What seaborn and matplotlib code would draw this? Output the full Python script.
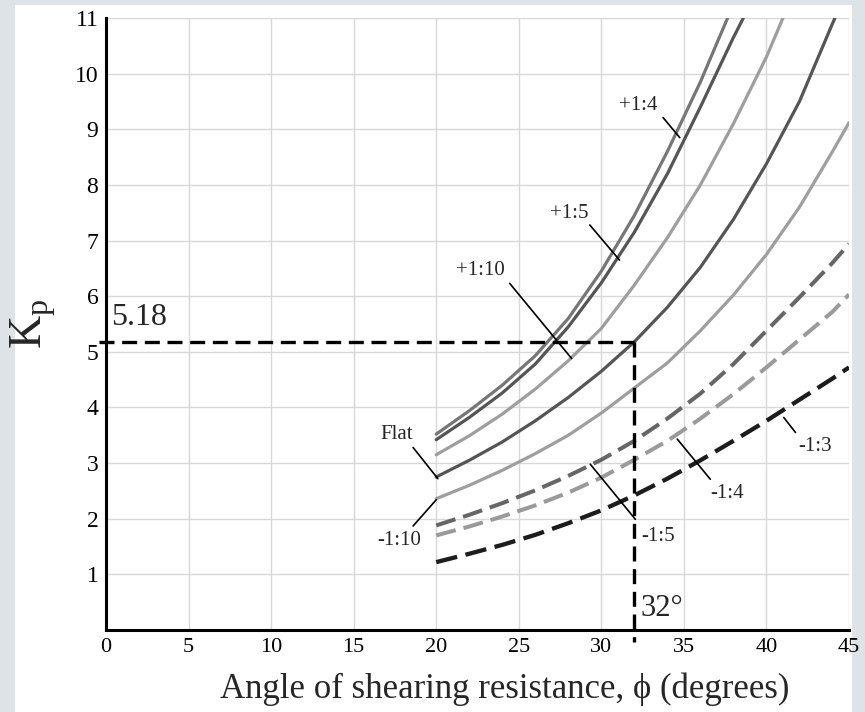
import matplotlib
matplotlib.use("Agg")
import matplotlib.pyplot as plt
import seaborn as sns
import pandas as pd
from matplotlib.patches import Rectangle

# Kp curves (phi in degrees)
phi_p14 = [20, 22, 24, 26, 28, 30, 32, 34, 36, 37, 37.65]
kp_p14 = [3.52, 3.94, 4.4, 4.93, 5.6, 6.45, 7.45, 8.6, 9.85, 10.55, 11.0]

phi_p15 = [20, 22, 24, 26, 28, 30, 32, 34, 36, 38, 38.6]
kp_p15 = [3.42, 3.82, 4.26, 4.78, 5.45, 6.24, 7.15, 8.2, 9.4, 10.65, 11.0]

phi_p110 = [20, 22, 24, 26, 28, 30, 32, 34, 36, 38, 40, 41.0]
kp_p110 = [3.15, 3.49, 3.88, 4.33, 4.84, 5.42, 6.2, 7.05, 8.0, 9.1, 10.3, 11.0]

phi_flat = [20, 22, 24, 26, 28, 30, 32, 34, 36, 38, 40, 42, 44, 44.15]
kp_flat = [2.75, 3.05, 3.38, 3.76, 4.18, 4.65, 5.18, 5.8, 6.52, 7.38, 8.38,
           9.5, 10.9, 11.0]

phi_full = [20, 22, 24, 26, 28, 30, 32, 34, 36, 38, 40, 42, 44, 45]
kp_m110 = [2.36, 2.6, 2.87, 3.17, 3.5, 3.9, 4.35, 4.8, 5.38, 6.02, 6.75,
           7.6, 8.6, 9.12]
kp_m15 = [1.88, 2.07, 2.28, 2.51, 2.77, 3.06, 3.4, 3.8, 4.25, 4.78, 5.38,
          5.98, 6.6, 6.94]
kp_m14 = [1.7, 1.86, 2.04, 2.24, 2.47, 2.74, 3.06, 3.4, 3.8, 4.24, 4.72,
          5.22, 5.72, 6.03]
kp_m13 = [1.22, 1.37, 1.53, 1.71, 1.92, 2.15, 2.42, 2.72, 3.05, 3.4, 3.76,
          4.14, 4.52, 4.72]

# worked example
phi_example = 32
kp_example = 5.18

x_ticks = [0, 5, 10, 15, 20, 25, 30, 35, 40, 45]
y_ticks = [1, 2, 3, 4, 5, 6, 7, 8, 9, 10, 11]

series = [
    ("+1:4", phi_p14, kp_p14, "#767676", "-", 2.3),
    ("+1:5", phi_p15, kp_p15, "#555555", "-", 2.3),
    ("+1:10", phi_p110, kp_p110, "#9e9e9e", "-", 2.3),
    ("Flat", phi_flat, kp_flat, "#555555", "-", 2.3),
    ("-1:10", phi_full, kp_m110, "#9e9e9e", "-", 2.3),
    ("-1:5", phi_full, kp_m15, "#666666", (0, (5, 2)), 2.9),
    ("-1:4", phi_full, kp_m14, "#9a9a9a", (0, (5, 2)), 2.9),
    ("-1:3", phi_full, kp_m13, "#1c1c1c", (0, (5, 2)), 3.1),
]

sns.set_style("white")
plt.rcParams["font.family"] = ["Liberation Serif", "DejaVu Serif"]
plt.rcParams["mathtext.fontset"] = "custom"
plt.rcParams["mathtext.rm"] = "Liberation Serif"

fig = plt.figure(figsize=(8.65, 7.12), dpi=100, facecolor="#dde3e7")
panel = Rectangle((15 / 865, 0), 837 / 865, 707 / 712,
                  transform=fig.transFigure, facecolor="white",
                  edgecolor="none", zorder=-10)
fig.add_artist(panel)
ax = fig.add_axes([106 / 865, 82 / 712, 743 / 865, 612 / 712])
ax.set_facecolor("white")

for name, xs, ys, color, ls, lw in series:
    df = pd.DataFrame({"phi": xs, "kp": ys})
    sns.lineplot(data=df, x="phi", y="kp", ax=ax, color=color,
                 linestyle=ls, linewidth=lw, zorder=3)

# example lines
ax.plot([-0.45, phi_example], [kp_example, kp_example], color="black",
        lw=2.4, linestyle=(0, (4.5, 2.3)), clip_on=False, zorder=4)
ax.plot([phi_example, phi_example], [kp_example, -0.22], color="black",
        lw=2.4, linestyle=(0, (4.5, 2.3)), clip_on=False, zorder=4)
ax.text(0.3, 5.36, "5.18", fontsize=23, ha="left", va="bottom")
ax.text(32.35, 0.12, "32°", fontsize=22, ha="left", va="bottom")

# curve labels with leader lines
labels = [
    ("+1:4", 31.1, 9.42, [33.74, 34.75], [9.21, 8.85]),
    ("+1:5", 26.9, 7.49, [29.3, 31.1], [7.28, 6.65]),
    ("+1:10", 21.2, 6.46, [24.45, 28.2], [6.23, 4.88]),
    ("Flat", 16.6, 3.52, [18.6, 20.1], [3.28, 2.72]),
    ("-1:10", 16.4, 1.6, [18.6, 20.0], [1.87, 2.34]),
    ("-1:5", 32.4, 1.68, [32.06, 29.33], [1.99, 2.98]),
    ("-1:4", 36.6, 2.46, [36.6, 34.6], [2.71, 3.43]),
    ("-1:3", 41.9, 3.29, [41.76, 41.05], [3.55, 3.82]),
]
for txt, tx, ty, lx, ly in labels:
    ax.text(tx, ty, txt, fontsize=15, ha="left", va="center", zorder=5)
    ax.plot(lx, ly, color="black", lw=1.2, zorder=5)

ax.set_xlim(0, 45)
ax.set_ylim(0, 11)
ax.set_xticks(x_ticks)
ax.set_yticks(y_ticks)
ax.grid(True, color="#d8d8d8", lw=1.0, zorder=0)
ax.set_axisbelow(True)
for side in ["top", "right"]:
    ax.spines[side].set_visible(False)
for side in ["left", "bottom"]:
    ax.spines[side].set_linewidth(2.2)
    ax.spines[side].set_color("black")
ax.tick_params(direction="inout", length=9, width=2, colors="black")
ax.tick_params(axis="x", labelsize=16, pad=1)
ax.tick_params(axis="y", labelsize=17, pad=1)

ax.set_xlabel("Angle of shearing resistance, ϕ (degrees)", fontsize=25)
ax.xaxis.set_label_coords(0.536, -0.07, transform=ax.transAxes)
ax.xaxis.label.set_va("top")
ax.set_ylabel(r"K$_\mathrm{p}$", fontsize=33, labelpad=12)

fig.savefig("out.png", dpi=100, facecolor=fig.get_facecolor())
